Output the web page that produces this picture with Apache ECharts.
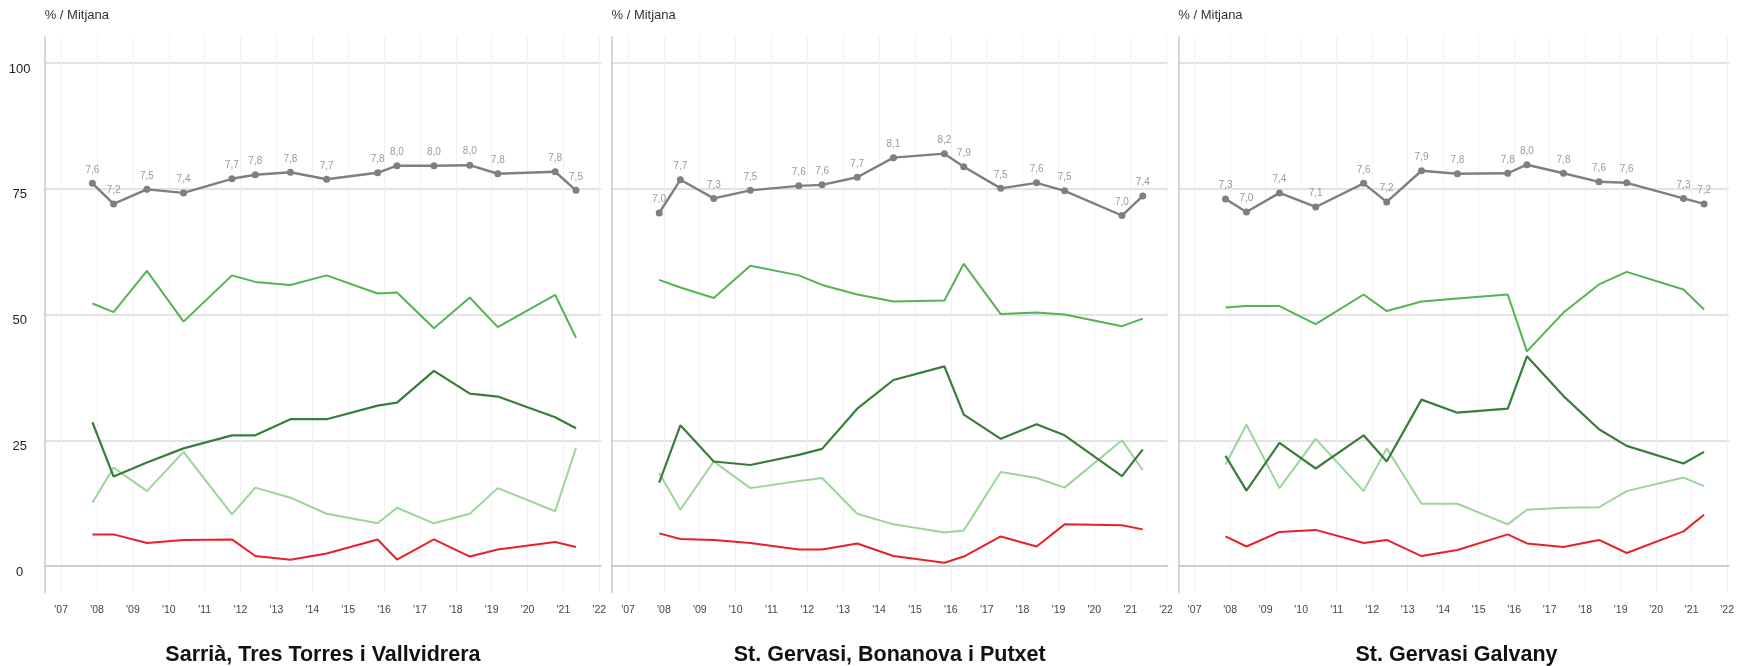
<!DOCTYPE html>
<html>
<head>
<meta charset="utf-8">
<script src="https://cdn.jsdelivr.net/npm/echarts@6/dist/echarts.min.js"></script>
<style>
html,body{margin:0;padding:0;background:#fff;}
#chart{width:1737px;height:666px;}
</style>
</head>
<body>
<div id="chart"></div>
<script>
// Survey dates (decimal years)
const dates = [2007.87, 2008.46, 2009.39, 2010.41, 2011.76, 2012.41, 2013.39, 2014.40, 2015.82, 2016.36, 2017.39, 2018.39, 2019.17, 2020.77, 2021.35];
const yearTicks = [2007, 2008, 2009, 2010, 2011, 2012, 2013, 2014, 2015, 2016, 2017, 2018, 2019, 2020, 2021, 2022];
const yTicks = [0, 25, 50, 75, 100];
const panelTitles = ['Sarrià, Tres Torres i Vallvidrera', 'St. Gervasi, Bonanova i Putxet', 'St. Gervasi Galvany'];

// Panel 1: Sarrià, Tres Torres i Vallvidrera
const mitjana1 = [7.61, 7.20, 7.49, 7.42, 7.70, 7.78, 7.83, 7.69, 7.82, 7.96, 7.96, 7.97, 7.80, 7.84, 7.47];
const green1 = [52.2, 50.5, 58.7, 48.6, 57.8, 56.5, 55.9, 57.8, 54.2, 54.4, 47.3, 53.4, 47.5, 53.9, 45.4];
const darkGreen1 = [28.6, 17.8, 20.6, 23.4, 26.0, 26.0, 29.2, 29.2, 31.9, 32.5, 38.8, 34.3, 33.7, 29.6, 27.4];
const lightGreen1 = [12.6, 19.6, 14.9, 22.7, 10.3, 15.6, 13.6, 10.4, 8.5, 11.6, 8.5, 10.4, 15.5, 10.9, 23.5];
const red1 = [6.3, 6.3, 4.6, 5.2, 5.3, 2.0, 1.25, 2.5, 5.3, 1.3, 5.3, 1.9, 3.3, 4.8, 3.8];

// Panel 2: St. Gervasi, Bonanova i Putxet
const mitjana2 = [7.02, 7.68, 7.31, 7.47, 7.56, 7.58, 7.73, 8.12, 8.20, 7.94, 7.51, 7.62, 7.46, 6.97, 7.36];
const green2 = [56.9, 55.4, 53.3, 59.7, 57.8, 55.9, 54.0, 52.6, 52.8, 60.1, 50.1, 50.4, 50.0, 47.7, 49.2];
const darkGreen2 = [16.6, 28.0, 20.8, 20.1, 22.1, 23.3, 31.3, 37.0, 39.7, 30.1, 25.3, 28.2, 26.0, 17.9, 23.2];
const lightGreen2 = [18.5, 11.2, 20.8, 15.5, 16.9, 17.5, 10.4, 8.3, 6.7, 7.1, 18.7, 17.5, 15.6, 25.0, 19.1];
const red2 = [6.5, 5.4, 5.2, 4.6, 3.3, 3.3, 4.5, 2.0, 0.65, 1.9, 5.9, 3.9, 8.3, 8.1, 7.3];

// Panel 3: St. Gervasi Galvany
const mitjana3 = [7.30, 7.04, 7.42, 7.14, 7.61, 7.24, 7.86, 7.80, 7.81, 7.98, 7.81, 7.64, 7.62, 7.31, 7.20];
const green3 = [51.4, 51.7, 51.7, 48.1, 54.0, 50.7, 52.6, 53.2, 54.0, 42.7, 50.4, 56.0, 58.5, 55.0, 51.0];
const darkGreen3 = [21.9, 15.0, 24.5, 19.4, 26.0, 20.8, 33.1, 30.5, 31.3, 41.7, 33.8, 27.2, 23.9, 20.4, 22.7];
const lightGreen3 = [20.2, 28.1, 15.5, 25.3, 14.9, 23.4, 12.4, 12.4, 8.3, 11.2, 11.6, 11.7, 14.9, 17.6, 15.9];
const red3 = [5.9, 3.9, 6.8, 7.2, 4.6, 5.2, 2.0, 3.2, 6.3, 4.5, 3.8, 5.2, 2.6, 6.9, 10.2];

const panels = [
  {mitjana: mitjana1, green: green1, dark: darkGreen1, light: lightGreen1, red: red1},
  {mitjana: mitjana2, green: green2, dark: darkGreen2, light: lightGreen2, red: red2},
  {mitjana: mitjana3, green: green3, dark: darkGreen3, light: lightGreen3, red: red3}
];

const FONT = 'Liberation Sans, Arial, sans-serif';
const gridLeft0 = 44.7, gridStep = 566.8, gridW = 556.4, gridTop = 36.7, gridH = 555.8;

const grids = [], xAxes = [], yAxes = [], series = [], graphics = [];
const pair = (arr, k) => dates.map((d, i) => [d, arr[i] * (k || 1)]);

panels.forEach((p, idx) => {
  const left = gridLeft0 + gridStep * idx;
  grids.push({left: left, top: gridTop, width: gridW, height: gridH, containLabel: false});
  xAxes.push({
    type: 'value', gridIndex: idx, min: 2006.54, max: 2022.05,
    axisLine: {show: true, lineStyle: {color: '#c8c8c8', width: 1.5}},
    axisTick: {show: false, customValues: yearTicks},
    axisLabel: {customValues: yearTicks, formatter: v => "'" + String(Math.round(v)).slice(2),
      color: '#444', fontSize: 10.5, fontFamily: FONT, margin: 12},
    splitLine: {show: true, lineStyle: {color: '#f1f1f1', width: 1}}
  });
  yAxes.push({
    type: 'value', gridIndex: idx, min: -5.25, max: 105.25,
    axisLine: {show: true, lineStyle: {color: '#c8c8c8', width: 1.5}},
    axisTick: {show: false, customValues: yTicks},
    axisLabel: {show: idx === 0, customValues: yTicks, color: '#222', fontSize: 13, fontFamily: FONT,
      align: 'center', verticalAlign: 'top', lineHeight: 12, margin: 25},
    splitLine: {show: true, lineStyle: {color: '#d9d9d9', width: 1.5}}
  });
  const common = {type: 'line', xAxisIndex: idx, yAxisIndex: idx, symbol: 'none', silent: true, animation: false};
  series.push(Object.assign({}, common, {name: 'red', data: pair(p.red), lineStyle: {color: '#e8202a', width: 2}, itemStyle: {color: '#e8202a'}}));
  series.push(Object.assign({}, common, {name: 'light', data: pair(p.light), lineStyle: {color: '#9dd49a', width: 2}, itemStyle: {color: '#9dd49a'}}));
  series.push(Object.assign({}, common, {name: 'dark', data: pair(p.dark), lineStyle: {color: '#3a7c3a', width: 2.2}, itemStyle: {color: '#3a7c3a'}}));
  series.push(Object.assign({}, common, {name: 'green', data: pair(p.green), lineStyle: {color: '#55b355', width: 2}, itemStyle: {color: '#55b355'}}));
  series.push(Object.assign({}, common, {
    name: 'mitjana', data: pair(p.mitjana, 10), symbol: 'circle', symbolSize: 7,
    lineStyle: {color: '#7f7f7f', width: 2.4}, itemStyle: {color: '#7f7f7f'},
    label: {show: true, position: 'top', distance: 5, color: '#999', fontSize: 10, fontFamily: FONT,
      formatter: prm => (prm.value[1] / 10).toFixed(1).replace('.', ',')}
  }));
  graphics.push({type: 'text', x: left, y: 15, style: {text: '% / Mitjana', font: '13px ' + FONT, fill: '#333', textAlign: 'left', textVerticalAlign: 'middle'}});
  graphics.push({type: 'text', x: left + gridW / 2, y: 655, style: {text: panelTitles[idx], font: 'bold 21.5px ' + FONT, fill: '#111', textAlign: 'center', textVerticalAlign: 'middle'}});
});

const chart = echarts.init(document.getElementById('chart'), null, {renderer: 'canvas'});
chart.setOption({
  animation: false,
  backgroundColor: '#fff',
  grid: grids, xAxis: xAxes, yAxis: yAxes, series: series, graphic: graphics
});
</script>
</body>
</html>
